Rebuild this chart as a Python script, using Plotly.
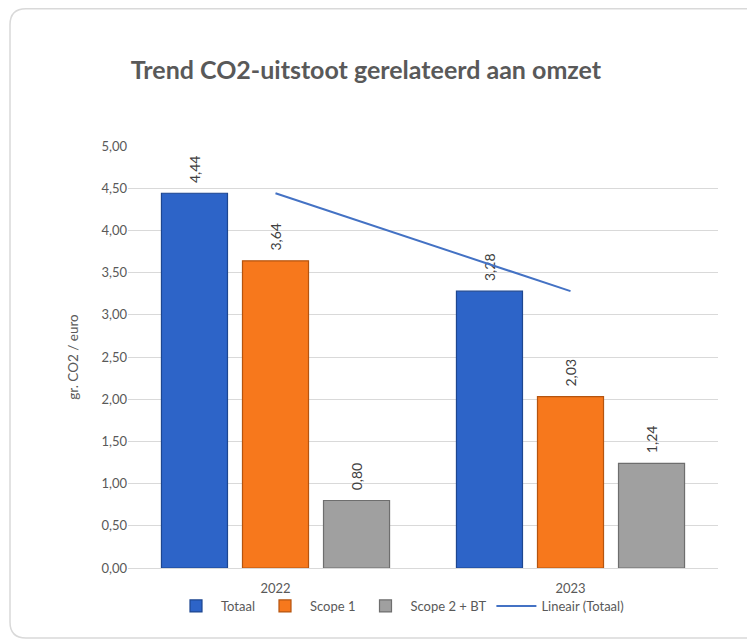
import plotly.graph_objects as go

# data
jaren = ["2022", "2023"]
totaal = [4.44, 3.28]
scope1 = [3.64, 2.03]
scope2_bt = [0.80, 1.24]
trend_totaal = [4.44, 3.28]  # Lineair (Totaal), 2 punten

W, H = 755, 639
# pagina heeft 8px body-marge, dus alles 8px naar links/boven
OFF = 8
L, T = 128 - OFF, 146 - OFF
R, B = W - (718 - OFF), H - (568 - OFF)
PW, PH = W - L - R, H - T - B

TXT = "#595959"
FONT = "Lato, 'Open Sans', sans-serif"


def px_x(x):
    return (x - OFF - L) / PW


def px_y(y):
    return (H - B - (y - OFF)) / PH


def card_path(x0, y0, x1, y1, r):
    """afgeronde rechthoek in paper-coordinaten"""
    dx, dy = r / PW, r / PH
    a, b, c, d = px_x(x0), px_y(y0), px_x(x1), px_y(y1)
    return (
        f"M {c},{b} L {a + dx},{b} Q {a},{b} {a},{b - dy} "
        f"L {a},{d + dy} Q {a},{d} {a + dx},{d} L {c},{d}"
    )


fig = go.Figure()

series = [
    ("Totaal", totaal, "#2D64C8", "#1D4690"),
    ("Scope 1", scope1, "#F7781C", "#B5540F"),
    ("Scope 2 + BT", scope2_bt, "#A0A0A0", "#6E6E6E"),
]
for naam, vals, kleur, rand in series:
    fig.add_trace(go.Bar(
        name=naam,
        x=jaren,
        y=vals,
        marker=dict(color=kleur, line=dict(color=rand, width=1.2)),
        texttemplate="\u00a0\u00a0%{y:.2f}",
        textposition="outside",
        textangle=-90,
        textfont=dict(family=FONT, size=14, color="#404040"),
        cliponaxis=False,
    ))

fig.add_trace(go.Scatter(
    name="Lineair (Totaal)",
    x=jaren,
    y=trend_totaal,
    mode="lines",
    line=dict(color="#4472C4", width=2),
))

fig.update_layout(
    width=W,
    height=H,
    margin=dict(l=L, r=R, t=T, b=B),
    paper_bgcolor="white",
    plot_bgcolor="white",
    separators=",.",
    barmode="group",
    bargap=0.176,
    bargroupgap=0.185,
    font=dict(family=FONT, size=13, color=TXT),
    title=dict(
        text="<b>Trend CO2-uitstoot gerelateerd aan omzet</b>",
        x=(366 - OFF) / W,
        xanchor="center",
        y=1 - (70 - OFF) / H,
        yanchor="middle",
        yref="container",
        font=dict(family=FONT, size=25, color=TXT),
    ),
    legend=dict(
        orientation="h",
        x=px_x(400),
        xanchor="center",
        y=px_y(606),
        yanchor="middle",
        bgcolor="rgba(0,0,0,0)",
        font=dict(family=FONT, size=13, color=TXT),
        itemwidth=40,
    ),
    shapes=[dict(
        type="path",
        xref="paper",
        yref="paper",
        path=card_path(10, 8.8, 780, 638, 16),
        line=dict(color="#D9D9D9", width=1.5),
        layer="below",
    )],
)

fig.update_xaxes(
    showgrid=False,
    showline=True,
    linecolor="#D9D9D9",
    linewidth=1,
    ticks="",
    ticklabelstandoff=8,
    tickfont=dict(size=13, color=TXT),
)
fig.update_yaxes(
    range=[0, 5],
    dtick=0.5,
    tickformat=".2f",
    showgrid=True,
    gridcolor="#D9D9D9",
    gridwidth=1,
    zeroline=False,
    ticks="",
    tickfont=dict(size=13, color=TXT),
    title=dict(text="gr. CO2 / euro", font=dict(size=13.5, color=TXT), standoff=19),
)

fig.write_html("out.html")
